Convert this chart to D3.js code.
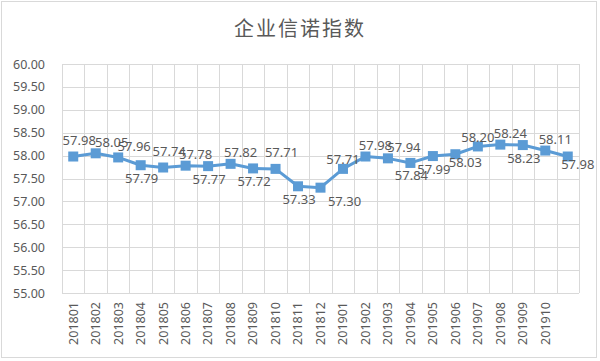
<!DOCTYPE html>
<html><head><meta charset="utf-8">
<script src="https://cdn.jsdelivr.net/npm/d3@7/dist/d3.min.js"></script>
<style>body{margin:0;background:#fff;} svg{display:block;}</style>
</head><body>
<svg id="c" width="600" height="361"></svg>
<script>
const title = "企业信诺指数";
const categories = ["201801","201802","201803","201804","201805","201806","201807","201808","201809","201810","201811","201812","201901","201902","201903","201904","201905","201906","201907","201908","201909","201910",""];
const values = [57.98,58.05,57.96,57.79,57.74,57.78,57.77,57.82,57.72,57.71,57.33,57.30,57.71,57.98,57.94,57.84,57.99,58.03,58.20,58.24,58.23,58.11,57.98];
const yTicks = [55,55.5,56,56.5,57,57.5,58,58.5,59,59.5,60];
const labelPlacement = ["top","topright","topright","bottom","top","upright","bottom","upright","bottom","top","bottom","farbottomright","upper","upright","topright","bottom","bottom","bottomright","upper","upright","bottom","upright","bottomright"];

const svg = d3.select("#c");
const W = 600, H = 361;
const m = {left:62, right:21, top:64, bottom:68};
const textCol = "#595959", gridCol = "#d9d9d9", lineCol = "#5B9BD5";
const font = "'Noto Sans', 'Noto Sans CJK SC', sans-serif";

svg.append("rect").attr("x",1.5).attr("y",1.5).attr("width",W-5).attr("height",H-5)
  .attr("fill","#fff").attr("stroke","#d9d9d9");

const x = d3.scaleBand().domain(d3.range(categories.length)).range([m.left, W-m.right]);
const y = d3.scaleLinear().domain([55,60]).range([H-m.bottom, m.top]);

// horizontal grid
const g = svg.append("g");
g.selectAll("line.h").data(yTicks).join("line")
  .attr("x1",m.left).attr("x2",W-m.right)
  .attr("y1",d=>Math.round(y(d))+0.5).attr("y2",d=>Math.round(y(d))+0.5)
  .attr("stroke",gridCol).attr("stroke-width",1);
// vertical grid at band edges
const edges = d3.range(categories.length+1).map(i => m.left + i*x.step());
g.selectAll("line.v").data(edges).join("line")
  .attr("x1",d=>Math.round(d)+0.5).attr("x2",d=>Math.round(d)+0.5)
  .attr("y1",m.top).attr("y2",H-m.bottom)
  .attr("stroke",gridCol).attr("stroke-width",1);

// y axis
const yAxis = d3.axisLeft(y).tickValues(yTicks).tickFormat(d3.format(".2f")).tickSize(0).tickPadding(17);
const ya = svg.append("g").attr("transform",`translate(${m.left},0)`).call(yAxis);
ya.select(".domain").remove();
ya.selectAll("text").attr("fill",textCol).style("font-family",font).style("font-size","12.5px");

// x axis
const xAxis = d3.axisBottom(x).tickFormat(i=>categories[i]).tickSize(0);
const xa = svg.append("g").attr("transform",`translate(0,${H-m.bottom})`).call(xAxis);
xa.select(".domain").remove();
xa.selectAll("text").attr("fill",textCol).style("font-family",font).style("font-size","12.5px")
  .attr("transform","rotate(-90)").attr("text-anchor","end").attr("x",-9).attr("y",0).attr("dy","0.35em");

// line
const px = i => x(i) + x.bandwidth()/2;
svg.append("path").datum(values)
  .attr("d", d3.line().x((d,i)=>px(i)).y(d=>y(d)))
  .attr("fill","none").attr("stroke",lineCol).attr("stroke-width",3).attr("stroke-linejoin","round");
svg.selectAll("rect.mk").data(values).join("rect")
  .attr("x",(d,i)=>px(i)-5).attr("y",d=>y(d)-5).attr("width",10).attr("height",10)
  .attr("fill",lineCol);

// labels
const offs = {top:[6,-16], topright:[16,-11], upright:[10,-11], upper:[0,-9],
              bottom:[1,13], bottomright:[10,8], farbottomright:[24,14]};
svg.selectAll("text.lbl").data(values).join("text")
  .attr("x",(d,i)=>px(i)+offs[labelPlacement[i]][0])
  .attr("y",(d,i)=>y(d)+offs[labelPlacement[i]][1])
  .attr("dy","0.35em").attr("text-anchor","middle")
  .attr("fill",textCol).style("font-family",font).style("font-size","13px")
  .text(d=>d.toFixed(2));

// title
svg.append("text").attr("x",300).attr("y",29).attr("dy","0.35em").attr("text-anchor","middle")
  .attr("fill",textCol).style("font-family","'Noto Sans CJK SC', sans-serif").style("font-size","20px")
  .style("letter-spacing","2px").text(title);
</script>
</body></html>
